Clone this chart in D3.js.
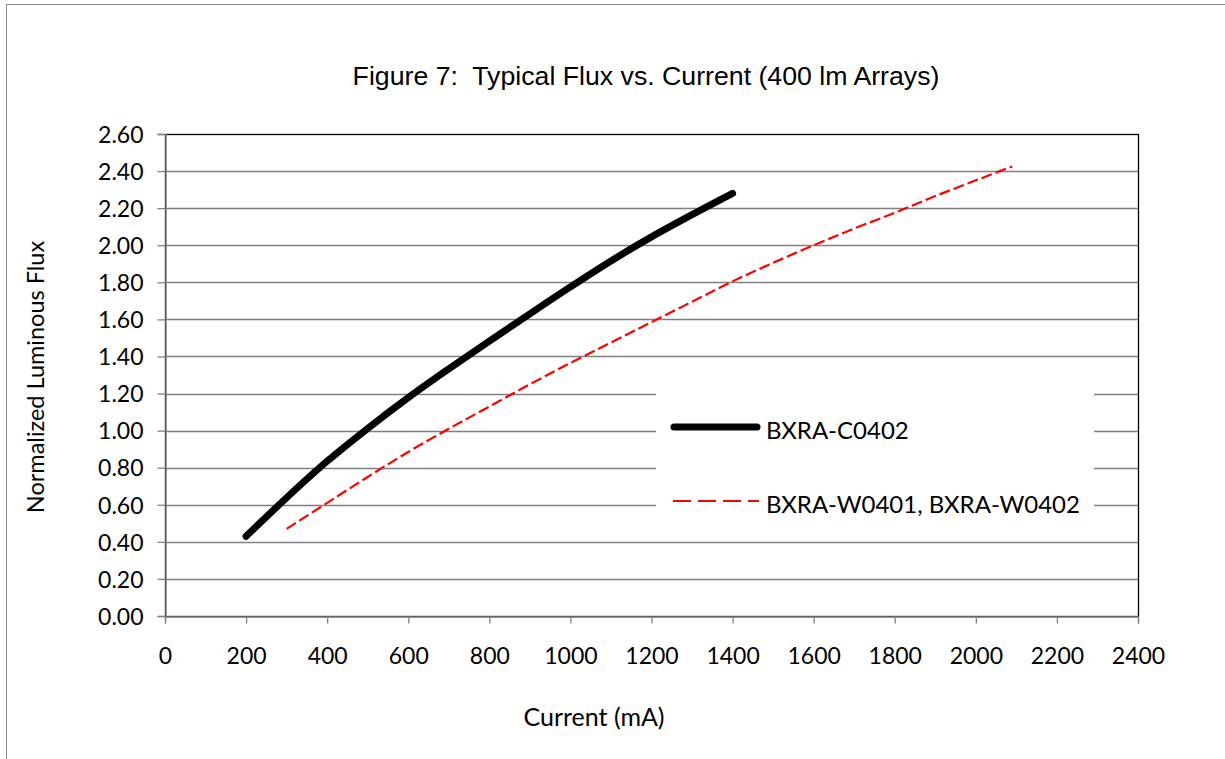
<!DOCTYPE html>
<html>
<head>
<meta charset="utf-8">
<script src="https://cdn.jsdelivr.net/npm/d3@7"></script>
<style>
  html, body { margin: 0; padding: 0; background: #fff; }
  svg { display: block; }
  text { white-space: pre; }
</style>
</head>
<body>
<svg id="chart" width="1225" height="759"></svg>
<script>
// ---- data ----
const titleText = "Figure 7:  Typical Flux vs. Current (400 lm Arrays)";
const xTitle = "Current (mA)";
const yTitle = "Normalized Luminous Flux";
const seriesNames = ["BXRA-C0402", "BXRA-W0401, BXRA-W0402"];
const xTicks = [0, 200, 400, 600, 800, 1000, 1200, 1400, 1600, 1800, 2000, 2200, 2400];
const yTicks = [0, 0.2, 0.4, 0.6, 0.8, 1.0, 1.2, 1.4, 1.6, 1.8, 2.0, 2.2, 2.4, 2.6];

const c0402Current = [200, 300, 400, 500, 600, 700, 800, 900, 1000, 1100, 1200, 1300, 1400];
const c0402Flux    = [0.43, 0.638, 0.835, 1.012, 1.178, 1.333, 1.483, 1.63, 1.775, 1.915, 2.045, 2.165, 2.28];

const w040xCurrent = [300, 400, 500, 600, 700, 800, 900, 1000, 1100, 1200, 1300, 1400, 1500, 1600, 1700, 1800, 1900, 2000, 2090];
const w040xFlux    = [0.47, 0.61, 0.75, 0.885, 1.01, 1.13, 1.25, 1.365, 1.475, 1.585, 1.695, 1.805, 1.905, 2.00, 2.09, 2.175, 2.265, 2.35, 2.425];

// ---- layout ----
const svg = d3.select("#chart");
const plot = { left: 165, right: 1138, top: 134, bottom: 616 };

const x = d3.scaleLinear().domain([0, 2400]).range([plot.left, plot.right]);
const y = d3.scaleLinear().domain([0, 2.6]).range([plot.bottom, plot.top]);

const tickFont = "Lato, 'Open Sans', sans-serif";

// outer border (only left/top visible)
svg.append("rect")
  .attr("x", 6.5).attr("y", 4.5)
  .attr("width", 1400).attr("height", 1000)
  .attr("fill", "none").attr("stroke", "#8c8c8c").attr("stroke-width", 1);

// title
svg.append("text")
  .attr("x", 646).attr("y", 85)
  .attr("text-anchor", "middle")
  .attr("font-family", "'Liberation Sans', Arial, sans-serif")
  .attr("font-size", 26.7)
  .attr("fill", "#000")
  .text(titleText);

// gridlines
svg.append("g")
  .selectAll("line")
  .data(yTicks.filter(d => d > 0 && d < 2.6))
  .join("line")
  .attr("x1", plot.left).attr("x2", plot.right)
  .attr("y1", d => Math.round(y(d)) + 0.5).attr("y2", d => Math.round(y(d)) + 0.5)
  .attr("stroke", "#808080").attr("stroke-width", 1.3);

// plot border (top/right black)
svg.append("rect")
  .attr("x", plot.left + 0.5).attr("y", plot.top + 0.5)
  .attr("width", plot.right - plot.left).attr("height", plot.bottom - plot.top)
  .attr("fill", "none").attr("stroke", "#000").attr("stroke-width", 1.3);

// axes
const yAxis = d3.axisLeft(y).tickValues(yTicks).tickFormat(d3.format(".2f")).tickSize(8).tickPadding(14);
const xAxis = d3.axisBottom(x).tickValues(xTicks).tickFormat(d3.format("d")).tickSize(7).tickPadding(24);

const gy = svg.append("g").attr("transform", `translate(${plot.left + 0.5},0)`).call(yAxis);
const gx = svg.append("g").attr("transform", `translate(0,${plot.bottom + 0.5})`).call(xAxis);

[gx, gy].forEach(g => {
  g.select(".domain").attr("stroke", "#808080").attr("stroke-width", 1.3);
  g.selectAll(".tick line").attr("stroke", "#808080").attr("stroke-width", 1.3);
  g.selectAll(".tick text")
    .attr("font-family", tickFont)
    .attr("font-size", 23)
    .attr("fill", "#000");
});
gy.selectAll(".tick text").attr("dy", "0.36em");

// axis titles
svg.append("text")
  .attr("x", 594).attr("y", 726)
  .attr("text-anchor", "middle")
  .attr("font-family", tickFont)
  .attr("font-size", 25)
  .text(xTitle);

svg.append("text")
  .attr("transform", `translate(44,377) rotate(-90)`)
  .attr("text-anchor", "middle")
  .attr("font-family", tickFont)
  .attr("font-size", 23.5)
  .text(yTitle);

// lines
const line = d3.line().x(d => x(d[0])).y(d => y(d[1])).curve(d3.curveMonotoneX);

const wData = d3.zip(w040xCurrent, w040xFlux);
const cData = d3.zip(c0402Current, c0402Flux);

svg.append("path")
  .datum(wData)
  .attr("d", line)
  .attr("fill", "none")
  .attr("stroke", "#ff0000")
  .attr("stroke-width", 2.2)
  .attr("stroke-dasharray", "11,4");

svg.append("path")
  .datum(cData)
  .attr("d", line)
  .attr("fill", "none")
  .attr("stroke", "#000")
  .attr("stroke-width", 7)
  .attr("stroke-linecap", "round")
  .attr("stroke-linejoin", "round");

// legend
const lg = svg.append("g");
lg.append("rect")
  .attr("x", 656).attr("y", 377)
  .attr("width", 438).attr("height", 145)
  .attr("fill", "#fff");

const legendItems = [
  { name: seriesNames[0], y: 427, color: "#000", width: 7, dash: null, cap: "round" },
  { name: seriesNames[1], y: 501, color: "#ff0000", width: 2.2, dash: "18,7", cap: "butt" }
];
legendItems.forEach(it => {
  lg.append("line")
    .attr("x1", it.cap === "round" ? 674 : 673).attr("x2", it.cap === "round" ? 757 : 759)
    .attr("y1", it.y).attr("y2", it.y)
    .attr("stroke", it.color).attr("stroke-width", it.width)
    .attr("stroke-linecap", it.cap)
    .attr("stroke-dasharray", it.dash);
  lg.append("text")
    .attr("x", 766).attr("y", it.y + 3)
    .attr("dy", "0.36em")
    .attr("font-family", tickFont)
    .attr("font-size", 24)
    .attr("fill", "#000")
    .text(it.name);
});
</script>
</body>
</html>
